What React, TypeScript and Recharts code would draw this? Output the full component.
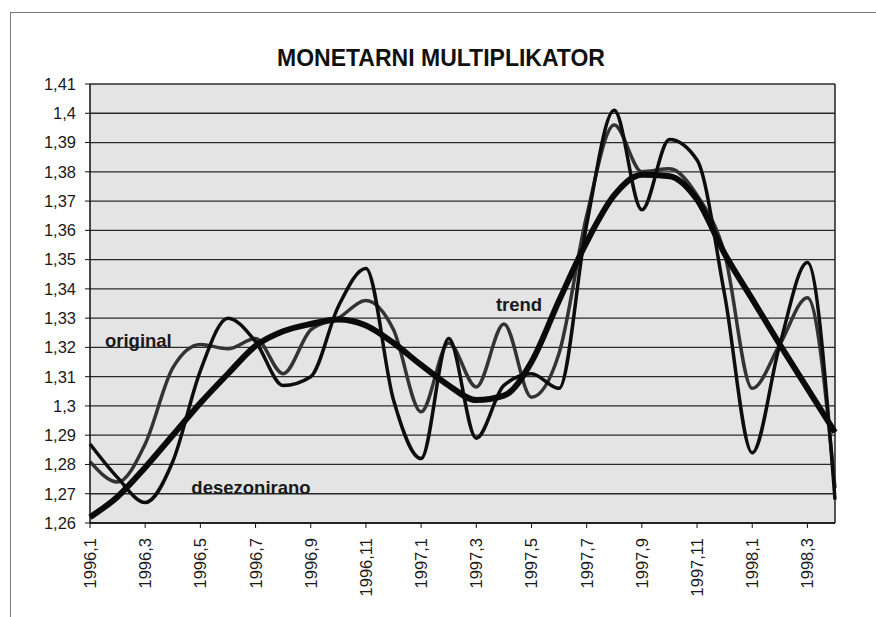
import React from 'react';
import {
  LineChart,
  Line,
  XAxis,
  YAxis,
  CartesianGrid,
  ReferenceLine,
  ReferenceDot,
} from 'recharts';

// months 1996,1 .. 1998,4
const categories = [
  '1996,1', '1996,2', '1996,3', '1996,4', '1996,5', '1996,6', '1996,7', '1996,8',
  '1996,9', '1996,10', '1996,11', '1996,12', '1997,1', '1997,2', '1997,3', '1997,4',
  '1997,5', '1997,6', '1997,7', '1997,8', '1997,9', '1997,10', '1997,11', '1997,12',
  '1998,1', '1998,2', '1998,3', '1998,4',
];

const original = [
  1.281, 1.274, 1.287, 1.313, 1.321, 1.3195, 1.323, 1.311, 1.326, 1.330,
  1.336, 1.326, 1.298, 1.3215, 1.3065, 1.328, 1.303, 1.318, 1.365, 1.396,
  1.380, 1.381, 1.372, 1.352, 1.306, 1.321, 1.337, 1.272,
];

const desezonirano = [
  1.287, 1.2755, 1.267, 1.281, 1.312, 1.330, 1.322, 1.307, 1.310, 1.334,
  1.347, 1.302, 1.282, 1.323, 1.289, 1.307, 1.311, 1.306, 1.362, 1.401,
  1.367, 1.391, 1.384, 1.338, 1.284, 1.321, 1.349, 1.268,
];

const trend = [
  1.262, 1.269, 1.279, 1.290, 1.301, 1.311, 1.3205, 1.3255, 1.328, 1.3295,
  1.3275, 1.3215, 1.314, 1.307, 1.302, 1.3035, 1.315, 1.336, 1.356, 1.372,
  1.379, 1.3785, 1.3705, 1.352, 1.3365, 1.321, 1.306, 1.291,
];

const yTicks = [
  1.26, 1.27, 1.28, 1.29, 1.3, 1.31, 1.32, 1.33, 1.34, 1.35, 1.36, 1.37, 1.38, 1.39, 1.4, 1.41,
];

const data = categories.map((month, i) => ({
  month,
  original: original[i],
  desezonirano: desezonirano[i],
  trend: trend[i],
}));

const FONT = '"Liberation Sans", Arial, sans-serif';

const fmt = (v: number) => String(Number(v.toFixed(2))).replace('.', ',');

const XTick = (props: any) => {
  const { x, y, payload } = props;
  const ty = y + 8;
  return (
    <text
      x={x}
      y={ty}
      transform={`rotate(-90 ${x} ${ty})`}
      textAnchor="end"
      dominantBaseline="central"
      fontFamily={FONT}
      fontSize={16.5}
      fill="#1a1a1a"
    >
      {payload.value}
    </text>
  );
};

const note = (text: string, anchor: 'start' | 'end', dx: number) => (props: any) => (
  <text
    x={props.cx + dx}
    y={props.cy}
    textAnchor={anchor}
    dominantBaseline="central"
    fontFamily={FONT}
    fontWeight="bold"
    fontSize={18.5}
    fill="#1a1a1a"
  >
    {text}
  </text>
);

export default function App() {
  return (
    <div
      style={{
        position: 'absolute',
        left: 0,
        top: 0,
        width: 876,
        height: 617,
        background: '#fff',
        overflow: 'hidden',
      }}
    >
      <div
        style={{
          position: 'absolute',
          left: 10,
          top: 12,
          width: 870,
          height: 610,
          borderLeft: '1px solid #777',
          borderTop: '1px solid #777',
        }}
      />
      <div
        style={{
          position: 'absolute',
          left: 0,
          width: 882,
          top: 45,
          textAlign: 'center',
          fontFamily: FONT,
          fontWeight: 'bold',
          fontSize: 23,
          color: '#111',
        }}
      >
        MONETARNI MULTIPLIKATOR
      </div>
      <div style={{ position: 'absolute', left: 0, top: 0 }}>
        <LineChart
          width={876}
          height={617}
          data={data}
          margin={{ top: 84, right: 41, left: 40, bottom: 24 }}
        >
          <CartesianGrid
            vertical={false}
            stroke="#2a2a2a"
            strokeWidth={1.3}
            fill="#e4e4e4"
            fillOpacity={1}
          />
          <XAxis
            dataKey="month"
            interval={1}
            height={70}
            tick={<XTick />}
            tickSize={5}
            axisLine={{ stroke: '#111', strokeWidth: 1.5 }}
            tickLine={{ stroke: '#111' }}
          />
          <YAxis
            type="number"
            domain={[1.26, 1.41]}
            ticks={yTicks}
            interval={0}
            width={50}
            allowDataOverflow
            tickFormatter={fmt}
            tick={{ fontFamily: FONT, fontSize: 16.5, fill: '#1a1a1a' }}
            tickSize={5}
            tickMargin={9}
            axisLine={{ stroke: '#111', strokeWidth: 1.5 }}
            tickLine={{ stroke: '#111' }}
          />
          <ReferenceLine x="1998,4" stroke="#222" strokeWidth={1.5} />
          <Line
            type="monotone"
            dataKey="original"
            stroke="#333"
            strokeWidth={3.5}
            dot={false}
            isAnimationActive={false}
          />
          <Line
            type="monotone"
            dataKey="desezonirano"
            stroke="#0d0d0d"
            strokeWidth={3.5}
            dot={false}
            isAnimationActive={false}
          />
          <Line
            type="monotone"
            dataKey="trend"
            stroke="#0a0a0a"
            strokeWidth={6}
            dot={false}
            isAnimationActive={false}
          />
          <ReferenceDot x="1996,4" y={1.3225} r={0} shape={note('original', 'end', -1)} />
          <ReferenceDot x="1996,5" y={1.2723} r={0} shape={note('desezonirano', 'start', -9)} />
          <ReferenceDot x="1997,4" y={1.3345} r={0} shape={note('trend', 'start', -8)} />
        </LineChart>
      </div>
    </div>
  );
}
